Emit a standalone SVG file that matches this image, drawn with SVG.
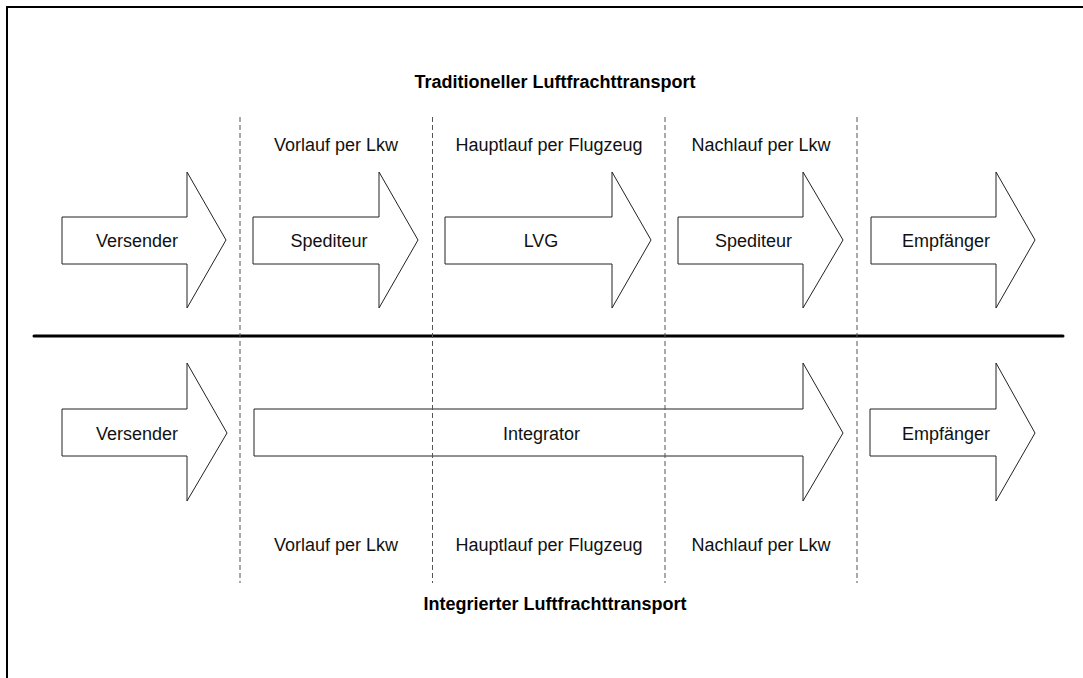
<svg xmlns="http://www.w3.org/2000/svg" width="1083" height="678" viewBox="0 0 1083 678">
<style>
.arrow{fill:#fff;stroke:#222;stroke-width:1}
.lbl{font-family:"Liberation Sans",Arial,sans-serif;font-size:18px;fill:#111;text-anchor:middle}
.title{font-family:"Liberation Sans",Arial,sans-serif;font-size:18px;font-weight:bold;fill:#000;text-anchor:middle}
.dash{stroke:#555;stroke-width:1;stroke-dasharray:5,3;fill:none}
</style>
<rect x="0" y="0" width="1083" height="678" fill="#fff"/>
<rect x="7" y="7" width="1090" height="690" fill="none" stroke="#000" stroke-width="2"/>
<g id="titles">
<text class="title" x="555" y="88">Traditioneller Luftfrachttransport</text>
<text class="title" x="555" y="610">Integrierter Luftfrachttransport</text>
</g>
<g id="phases-top">
<text class="lbl" x="336" y="151">Vorlauf per Lkw</text>
<text class="lbl" x="549" y="151">Hauptlauf per Flugzeug</text>
<text class="lbl" x="761" y="151">Nachlauf per Lkw</text>
</g>
<g id="phases-bottom">
<text class="lbl" x="336" y="551">Vorlauf per Lkw</text>
<text class="lbl" x="549" y="551">Hauptlauf per Flugzeug</text>
<text class="lbl" x="761" y="551">Nachlauf per Lkw</text>
</g>
<g id="top-versender">
<polygon class="arrow" points="62,217 187,217 187,172 226,240 187,308 187,264 62,264"/>
<text class="lbl" x="137" y="247">Versender</text>
</g>
<g id="top-spediteur1">
<polygon class="arrow" points="253,217 379,217 379,172 418,240 379,308 379,264 253,264"/>
<text class="lbl" x="329" y="247">Spediteur</text>
</g>
<g id="top-lvg">
<polygon class="arrow" points="445,217 612,217 612,172 651,240 612,308 612,264 445,264"/>
<text class="lbl" x="541" y="247">LVG</text>
</g>
<g id="top-spediteur2">
<polygon class="arrow" points="678,217 803,217 803,172 843,240 803,308 803,264 678,264"/>
<text class="lbl" x="753.5" y="247">Spediteur</text>
</g>
<g id="top-empfaenger">
<polygon class="arrow" points="871,217 996,217 996,172 1035,240 996,308 996,264 871,264"/>
<text class="lbl" x="946" y="247">Empfänger</text>
</g>
<g id="bottom-versender">
<polygon class="arrow" points="62,409 187,409 187,363 227,433 187,501 187,456 62,456"/>
<text class="lbl" x="137" y="440">Versender</text>
</g>
<g id="bottom-integrator">
<polygon class="arrow" points="254,409 803,409 803,363 843,433 803,501 803,456 254,456"/>
<text class="lbl" x="541.5" y="440">Integrator</text>
</g>
<g id="bottom-empfaenger">
<polygon class="arrow" points="870,409 996,409 996,363 1035,433 996,501 996,456 870,456"/>
<text class="lbl" x="946" y="440">Empfänger</text>
</g>
<g id="connectors">
<line x1="34" y1="336" x2="1063" y2="336" stroke="#000" stroke-width="3" stroke-linecap="round"/>
<line class="dash" x1="240" y1="117" x2="240" y2="583"/>
<line class="dash" x1="432.5" y1="117" x2="432.5" y2="583"/>
<line class="dash" x1="665" y1="117" x2="665" y2="583"/>
<line class="dash" x1="857" y1="117" x2="857" y2="583"/>
</g>
</svg>
